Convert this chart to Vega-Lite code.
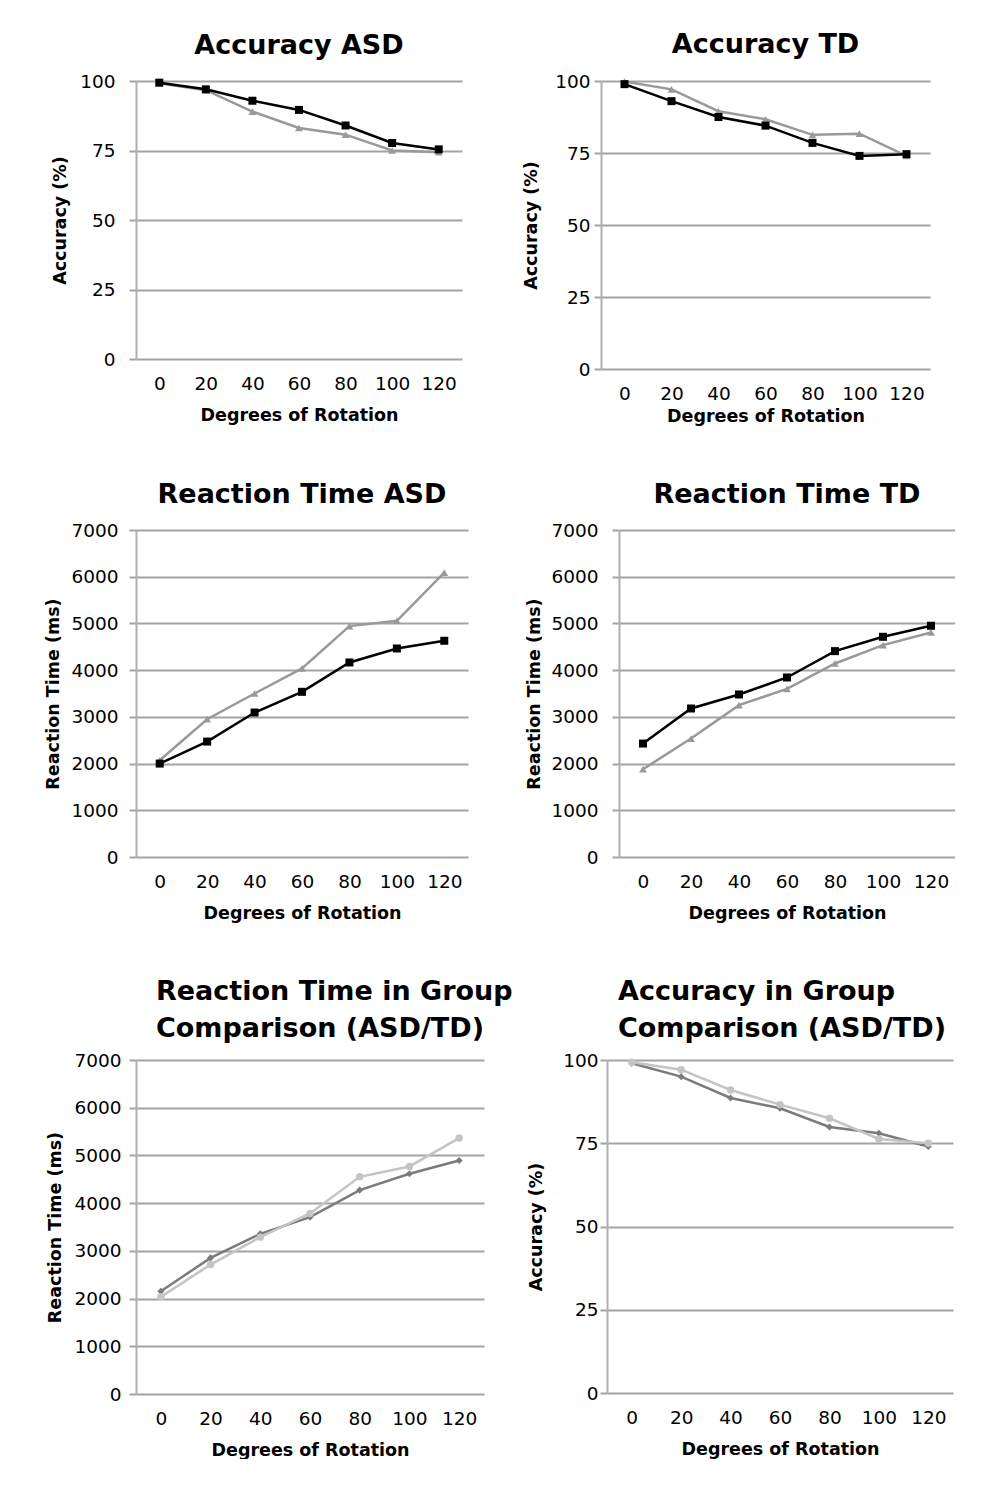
{
  "$schema": "https://vega.github.io/schema/vega-lite/v6.json",
  "background": "white",
  "padding": {"left": 44, "top": 31, "right": 0, "bottom": 0},
  "config": {
    "font": "DejaVu Sans",
    "view": {"stroke": null},
    "title": {"font": "DejaVu Sans", "fontSize": 27, "fontWeight": "bold", "color": "#000000", "frame": "group", "anchor": "middle", "lineHeight": 37},
    "axis": {"labelFont": "DejaVu Sans", "labelFontSize": 18.5, "labelColor": "#000000", "titleFont": "DejaVu Sans", "titleFontSize": 17.5, "titleFontWeight": "bold", "titleColor": "#000000", "gridColor": "#a3a3a3", "gridWidth": 2, "gridOpacity": 1, "domainColor": "#b0b0b0", "domainWidth": 2, "tickColor": "#a3a3a3", "tickWidth": 2},
    "axisX": {"grid": false, "ticks": false, "domain": false, "labelAngle": 0, "labelPadding": 15, "titlePadding": 14},
    "axisY": {"grid": true, "ticks": true, "tickSize": 7, "domain": true, "labelPadding": 10, "titlePadding": 8}
  },
  "datasets": {
    "accASD": [
      {"deg": 0, "series": "S1", "value": 99.2}, {"deg": 20, "series": "S1", "value": 96.7}, {"deg": 40, "series": "S1", "value": 89.0}, {"deg": 60, "series": "S1", "value": 83.1}, {"deg": 80, "series": "S1", "value": 80.7}, {"deg": 100, "series": "S1", "value": 75.0}, {"deg": 120, "series": "S1", "value": 74.4},
      {"deg": 0, "series": "S2", "value": 99.4}, {"deg": 20, "series": "S2", "value": 97.0}, {"deg": 40, "series": "S2", "value": 92.9}, {"deg": 60, "series": "S2", "value": 89.6}, {"deg": 80, "series": "S2", "value": 84.0}, {"deg": 100, "series": "S2", "value": 77.7}, {"deg": 120, "series": "S2", "value": 75.4}
    ],
    "accTD": [
      {"deg": 0, "series": "S1", "value": 99.8}, {"deg": 20, "series": "S1", "value": 97.1}, {"deg": 40, "series": "S1", "value": 89.5}, {"deg": 60, "series": "S1", "value": 86.7}, {"deg": 80, "series": "S1", "value": 81.3}, {"deg": 100, "series": "S1", "value": 81.7}, {"deg": 120, "series": "S1", "value": 74.0},
      {"deg": 0, "series": "S2", "value": 98.9}, {"deg": 20, "series": "S2", "value": 93.0}, {"deg": 40, "series": "S2", "value": 87.5}, {"deg": 60, "series": "S2", "value": 84.5}, {"deg": 80, "series": "S2", "value": 78.5}, {"deg": 100, "series": "S2", "value": 74.0}, {"deg": 120, "series": "S2", "value": 74.6}
    ],
    "rtASD": [
      {"deg": 0, "series": "S1", "value": 2071}, {"deg": 20, "series": "S1", "value": 2950}, {"deg": 40, "series": "S1", "value": 3500}, {"deg": 60, "series": "S1", "value": 4036}, {"deg": 80, "series": "S1", "value": 4943}, {"deg": 100, "series": "S1", "value": 5057}, {"deg": 120, "series": "S1", "value": 6086},
      {"deg": 0, "series": "S2", "value": 2000}, {"deg": 20, "series": "S2", "value": 2471}, {"deg": 40, "series": "S2", "value": 3093}, {"deg": 60, "series": "S2", "value": 3536}, {"deg": 80, "series": "S2", "value": 4164}, {"deg": 100, "series": "S2", "value": 4464}, {"deg": 120, "series": "S2", "value": 4629}
    ],
    "rtTD": [
      {"deg": 0, "series": "S1", "value": 1879}, {"deg": 20, "series": "S1", "value": 2536}, {"deg": 40, "series": "S1", "value": 3250}, {"deg": 60, "series": "S1", "value": 3600}, {"deg": 80, "series": "S1", "value": 4143}, {"deg": 100, "series": "S1", "value": 4536}, {"deg": 120, "series": "S1", "value": 4807},
      {"deg": 0, "series": "S2", "value": 2429}, {"deg": 20, "series": "S2", "value": 3179}, {"deg": 40, "series": "S2", "value": 3479}, {"deg": 60, "series": "S2", "value": 3843}, {"deg": 80, "series": "S2", "value": 4407}, {"deg": 100, "series": "S2", "value": 4714}, {"deg": 120, "series": "S2", "value": 4950}
    ],
    "rtGroup": [
      {"deg": 0, "series": "TD", "value": 2154}, {"deg": 20, "series": "TD", "value": 2853}, {"deg": 40, "series": "TD", "value": 3357}, {"deg": 60, "series": "TD", "value": 3706}, {"deg": 80, "series": "TD", "value": 4273}, {"deg": 100, "series": "TD", "value": 4615}, {"deg": 120, "series": "TD", "value": 4895},
      {"deg": 0, "series": "ASD", "value": 2035}, {"deg": 20, "series": "ASD", "value": 2713}, {"deg": 40, "series": "ASD", "value": 3287}, {"deg": 60, "series": "ASD", "value": 3783}, {"deg": 80, "series": "ASD", "value": 4552}, {"deg": 100, "series": "ASD", "value": 4769}, {"deg": 120, "series": "ASD", "value": 5364}
    ],
    "accGroup": [
      {"deg": 0, "series": "TD", "value": 99.0}, {"deg": 20, "series": "TD", "value": 95.0}, {"deg": 40, "series": "TD", "value": 88.6}, {"deg": 60, "series": "TD", "value": 85.5}, {"deg": 80, "series": "TD", "value": 79.9}, {"deg": 100, "series": "TD", "value": 78.0}, {"deg": 120, "series": "TD", "value": 74.0},
      {"deg": 0, "series": "ASD", "value": 99.3}, {"deg": 20, "series": "ASD", "value": 97.1}, {"deg": 40, "series": "ASD", "value": 91.0}, {"deg": 60, "series": "ASD", "value": 86.6}, {"deg": 80, "series": "ASD", "value": 82.5}, {"deg": 100, "series": "ASD", "value": 76.3}, {"deg": 120, "series": "ASD", "value": 75.0}
    ]
  },
  "columns": 1,
  "align": "none",
  "spacing": 56,
  "concat": [
    {
      "align": "none",
      "spacing": 60,
      "concat": [
        {
          "width": 326, "height": 278,
          "title": {"text": "Accuracy ASD", "offset": 12},
          "data": {"name": "accASD"},
          "encoding": {
            "x": {"field": "deg", "type": "ordinal", "title": "Degrees of Rotation"},
            "y": {"field": "value", "type": "quantitative", "title": "Accuracy (%)", "scale": {"domain": [0, 100], "nice": false}, "axis": {"values": [0, 25, 50, 75, 100], "labelPadding": 14, "titlePadding": 10}}
          },
          "layer": [
            {"transform": [{"filter": "datum.series === 'S1'"}], "mark": {"type": "line", "color": "#999999", "strokeWidth": 2.5}},
            {"transform": [{"filter": "datum.series === 'S1'"}], "mark": {"type": "point", "shape": "triangle-up", "filled": true, "color": "#999999", "size": 60, "opacity": 1}},
            {"transform": [{"filter": "datum.series === 'S2'"}], "mark": {"type": "line", "color": "#000000", "strokeWidth": 2.5}},
            {"transform": [{"filter": "datum.series === 'S2'"}], "mark": {"type": "point", "shape": "square", "filled": true, "color": "#000000", "size": 64, "opacity": 1}}
          ]
        },
        {
          "width": 329, "height": 288,
          "title": {"text": "Accuracy TD", "offset": 13},
          "data": {"name": "accTD"},
          "encoding": {
            "x": {"field": "deg", "type": "ordinal", "title": "Degrees of Rotation", "axis": {"titlePadding": 5}},
            "y": {"field": "value", "type": "quantitative", "title": "Accuracy (%)", "scale": {"domain": [0, 100], "nice": false}, "axis": {"values": [0, 25, 50, 75, 100], "labelPadding": 4, "titlePadding": 14}}
          },
          "layer": [
            {"transform": [{"filter": "datum.series === 'S1'"}], "mark": {"type": "line", "color": "#999999", "strokeWidth": 2.5}},
            {"transform": [{"filter": "datum.series === 'S1'"}], "mark": {"type": "point", "shape": "triangle-up", "filled": true, "color": "#999999", "size": 60, "opacity": 1}},
            {"transform": [{"filter": "datum.series === 'S2'"}], "mark": {"type": "line", "color": "#000000", "strokeWidth": 2.5}},
            {"transform": [{"filter": "datum.series === 'S2'"}], "mark": {"type": "point", "shape": "square", "filled": true, "color": "#000000", "size": 64, "opacity": 1}}
          ]
        }
      ]
    },
    {
      "align": "none",
      "spacing": 57,
      "concat": [
        {
          "width": 332, "height": 327,
          "title": {"text": "Reaction Time ASD", "offset": 12},
          "data": {"name": "rtASD"},
          "encoding": {
            "x": {"field": "deg", "type": "ordinal", "title": "Degrees of Rotation"},
            "y": {"field": "value", "type": "quantitative", "title": "Reaction Time (ms)", "scale": {"domain": [0, 7000], "nice": false}, "axis": {"values": [0, 1000, 2000, 3000, 4000, 5000, 6000, 7000], "format": "d", "labelPadding": 11, "titlePadding": 8}}
          },
          "layer": [
            {"transform": [{"filter": "datum.series === 'S1'"}], "mark": {"type": "line", "color": "#999999", "strokeWidth": 2.5}},
            {"transform": [{"filter": "datum.series === 'S1'"}], "mark": {"type": "point", "shape": "triangle-up", "filled": true, "color": "#999999", "size": 60, "opacity": 1}},
            {"transform": [{"filter": "datum.series === 'S2'"}], "mark": {"type": "line", "color": "#000000", "strokeWidth": 2.5}},
            {"transform": [{"filter": "datum.series === 'S2'"}], "mark": {"type": "point", "shape": "square", "filled": true, "color": "#000000", "size": 64, "opacity": 1}}
          ]
        },
        {
          "width": 336, "height": 327,
          "title": {"text": "Reaction Time TD", "offset": 12},
          "data": {"name": "rtTD"},
          "encoding": {
            "x": {"field": "deg", "type": "ordinal", "title": "Degrees of Rotation"},
            "y": {"field": "value", "type": "quantitative", "title": "Reaction Time (ms)", "scale": {"domain": [0, 7000], "nice": false}, "axis": {"values": [0, 1000, 2000, 3000, 4000, 5000, 6000, 7000], "format": "d", "labelPadding": 14, "titlePadding": 7}}
          },
          "layer": [
            {"transform": [{"filter": "datum.series === 'S1'"}], "mark": {"type": "line", "color": "#999999", "strokeWidth": 2.5}},
            {"transform": [{"filter": "datum.series === 'S1'"}], "mark": {"type": "point", "shape": "triangle-up", "filled": true, "color": "#999999", "size": 60, "opacity": 1}},
            {"transform": [{"filter": "datum.series === 'S2'"}], "mark": {"type": "line", "color": "#000000", "strokeWidth": 2.5}},
            {"transform": [{"filter": "datum.series === 'S2'"}], "mark": {"type": "point", "shape": "square", "filled": true, "color": "#000000", "size": 64, "opacity": 1}}
          ]
        }
      ]
    },
    {
      "align": "none",
      "spacing": 14,
      "concat": [
        {
          "width": 348, "height": 334,
          "title": {"text": ["Reaction Time in Group", "Comparison (ASD/TD)"], "anchor": "start", "dx": 20, "offset": 8},
          "data": {"name": "rtGroup"},
          "encoding": {
            "x": {"field": "deg", "type": "ordinal", "title": "Degrees of Rotation"},
            "y": {"field": "value", "type": "quantitative", "title": "Reaction Time (ms)", "scale": {"domain": [0, 7000], "nice": false}, "axis": {"values": [0, 1000, 2000, 3000, 4000, 5000, 6000, 7000], "format": "d", "labelPadding": 8, "titlePadding": 9}}
          },
          "layer": [
            {"transform": [{"filter": "datum.series === 'TD'"}], "mark": {"type": "line", "color": "#7b7b7b", "strokeWidth": 2.5}},
            {"transform": [{"filter": "datum.series === 'TD'"}], "mark": {"type": "point", "shape": "diamond", "filled": true, "color": "#7b7b7b", "size": 50, "opacity": 1}},
            {"transform": [{"filter": "datum.series === 'ASD'"}], "mark": {"type": "line", "color": "#c4c4c4", "strokeWidth": 2.5}},
            {"transform": [{"filter": "datum.series === 'ASD'"}], "mark": {"type": "point", "shape": "circle", "filled": true, "color": "#c4c4c4", "size": 55, "opacity": 1}}
          ]
        },
        {
          "width": 346, "height": 333,
          "title": {"text": ["Accuracy in Group", "Comparison (ASD/TD)"], "anchor": "start", "dx": 11, "offset": 8},
          "data": {"name": "accGroup"},
          "encoding": {
            "x": {"field": "deg", "type": "ordinal", "title": "Degrees of Rotation"},
            "y": {"field": "value", "type": "quantitative", "title": "Accuracy (%)", "scale": {"domain": [0, 100], "nice": false}, "axis": {"values": [0, 25, 50, 75, 100], "labelPadding": 2, "titlePadding": 17}}
          },
          "layer": [
            {"transform": [{"filter": "datum.series === 'TD'"}], "mark": {"type": "line", "color": "#7b7b7b", "strokeWidth": 2.5}},
            {"transform": [{"filter": "datum.series === 'TD'"}], "mark": {"type": "point", "shape": "diamond", "filled": true, "color": "#7b7b7b", "size": 50, "opacity": 1}},
            {"transform": [{"filter": "datum.series === 'ASD'"}], "mark": {"type": "line", "color": "#c4c4c4", "strokeWidth": 2.5}},
            {"transform": [{"filter": "datum.series === 'ASD'"}], "mark": {"type": "point", "shape": "circle", "filled": true, "color": "#c4c4c4", "size": 55, "opacity": 1}}
          ]
        }
      ]
    }
  ]
}
